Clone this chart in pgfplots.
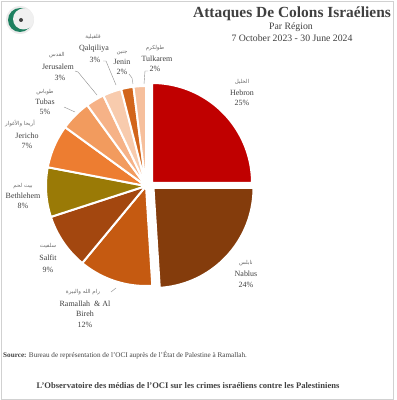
\documentclass[border=0pt]{standalone}
\usepackage{fontspec}
\setmainfont{Liberation Serif}
\newfontfamily\arabicfont[Script=Arabic]{DejaVu Sans}
\TeXXeTstate=1
\usepackage{pgfplots}
\pgfplotsset{compat=1.18}
\definecolor{cHeb}{HTML}{C00000}
\definecolor{cNab}{HTML}{843C0C}
\definecolor{cRam}{HTML}{C55A11}
\definecolor{cSal}{HTML}{A3470F}
\definecolor{cBet}{HTML}{9A7A06}
\definecolor{cJer}{HTML}{ED7D31}
\definecolor{cTub}{HTML}{F29B5E}
\definecolor{cJrs}{HTML}{F6B287}
\definecolor{cQal}{HTML}{F8CBAD}
\definecolor{cJen}{HTML}{D2651B}
\definecolor{cTul}{HTML}{F6BF9C}
\definecolor{txt}{HTML}{404040}
\definecolor{artxt}{HTML}{6A6A6A}
\definecolor{logog}{HTML}{1E8060}
% start (cumulative %), share (%), colour, centre x, centre y
\newcommand\slice[5]{%
  \addplot[fill=#3, draw=white, line width=2bp, line join=round, domain={90-3.6*(#1+#2)}:{90-3.6*(#1)}, samples=60, variable=\t]
    ({#4+100*cos(\t)},{#5+100*sin(\t)}) -- (axis cs:#4,#5) -- cycle;
}
\begin{document}
\begin{tikzpicture}
\begin{axis}[scale only axis, width=397bp, height=400bp,
  xmin=0, xmax=397, ymin=0, ymax=400, hide axis, clip=false]
% frame
\addplot[draw=black!18, line width=0.8bp] coordinates {(1,1) (393,1) (393,399) (1,399) (1,1)};
% slices
\slice{0}{25}{cHeb}{152}{217}
\slice{25}{24}{cNab}{153.5}{212}
\slice{49}{12}{cRam}{146}{214}
\slice{61}{9}{cSal}{146}{214}
\slice{70}{8}{cBet}{146}{214}
\slice{78}{7}{cJer}{146}{214}
\slice{85}{5}{cTub}{146}{214}
\slice{90}{3}{cJrs}{146}{214}
\slice{93}{3}{cQal}{146}{214}
\slice{96}{2}{cJen}{146}{214}
\slice{98}{2}{cTul}{146}{214}
% leader lines
\addplot[draw=black!45, line width=0.4bp] coordinates {(148,329) (145,329) (144,316)};
\addplot[draw=black!45, line width=0.4bp] coordinates {(129,326) (132,322) (133,316)};
\addplot[draw=black!45, line width=0.4bp] coordinates {(103,339) (106,339) (116,315)};
\addplot[draw=black!45, line width=0.4bp] coordinates {(75,329) (78,328) (97,305)};
\addplot[draw=black!45, line width=0.4bp] coordinates {(64,293) (75,288)};
\addplot[draw=black!45, line width=0.4bp] coordinates {(111,108) (116,112)};
% logo
\fill[black!8] (axis cs:20,380) circle[radius=14bp];
\fill[logog] (axis cs:20,380) circle[radius=12bp];
\fill[black!6] (axis cs:23.5,381) circle[radius=10.5bp];
\fill[black!75] (axis cs:21,380) circle[radius=2bp];
% titles
\node[text=txt, font=\fontsize{15.5}{17}\selectfont\bfseries] at (axis cs:292,386.5) {Attaques De Colons Israéliens};
\node[text=txt, font=\fontsize{9.8}{11}\selectfont] at (axis cs:291,373) {Par Région};
\node[text=txt, font=\fontsize{9.8}{11}\selectfont] at (axis cs:292,362) {7 October 2023 - 30 June 2024};
% labels
\begin{scope}[every node/.style={inner sep=0pt, text=txt, font=\fontsize{8}{9}\selectfont},
  arab/.style={text=artxt, font=\fontsize{5.5}{6}\selectfont\arabicfont}]
\node[arab] at (axis cs:242,318) {\beginR الخليل\endR};
\node at (axis cs:242,307) {Hebron};
\node at (axis cs:242,297) {25\%};
\node[arab] at (axis cs:246,137) {\beginR نابلس\endR};
\node at (axis cs:246,126) {Nablus};
\node at (axis cs:246,115) {24\%};
\node[arab] at (axis cs:83,108) {\beginR رام الله والبيرة\endR};
\node at (axis cs:85,96) {Ramallah\ \ \& Al};
\node at (axis cs:85,86) {Bireh};
\node at (axis cs:85,75) {12\%};
\node[arab] at (axis cs:48,154) {\beginR سلفيت\endR};
\node at (axis cs:48,142) {Salfit};
\node at (axis cs:48,130) {9\%};
\node[arab] at (axis cs:23,214) {\beginR بيت لحم\endR};
\node at (axis cs:23,204.5) {Bethlehem};
\node at (axis cs:23,194.5) {8\%};
\node[arab] at (axis cs:20,277) {\beginR أريحا والأغوار\endR};
\node at (axis cs:27,264.5) {Jericho};
\node at (axis cs:27,254) {7\%};
\node[arab] at (axis cs:45,308) {\beginR طوباس\endR};
\node at (axis cs:45,298) {Tubas};
\node at (axis cs:45,288) {5\%};
\node[arab] at (axis cs:57,345) {\beginR القدس\endR};
\node at (axis cs:58,333) {Jerusalem};
\node at (axis cs:60,322) {3\%};
\node[arab] at (axis cs:93,363) {\beginR قلقيلية\endR};
\node at (axis cs:94,351) {Qalqiliya};
\node at (axis cs:95,340) {3\%};
\node[arab] at (axis cs:122,347) {\beginR جنين\endR};
\node at (axis cs:122,338) {Jenin};
\node at (axis cs:122,328) {2\%};
\node[arab] at (axis cs:155,352) {\beginR طولكرم\endR};
\node at (axis cs:157,341) {Tulkarem};
\node at (axis cs:155,331) {2\%};
\end{scope}
% source and footer
\node[anchor=west, inner sep=0pt, text=txt, font=\fontsize{7.2}{8}\selectfont] at (axis cs:3,45) {\textbf{Source:} Bureau de représentation de l'OCI auprès de l'État de Palestine à Ramallah.};
\node[inner sep=0pt, text=txt, font=\fontsize{8.6}{10}\selectfont\bfseries] at (axis cs:188,14) {L'Observatoire des médias de l'OCI sur les crimes israéliens contre les Palestiniens};
\end{axis}
\pgfresetboundingbox
\useasboundingbox (0,0) rectangle (397bp,400bp);
\end{tikzpicture}
\end{document}
